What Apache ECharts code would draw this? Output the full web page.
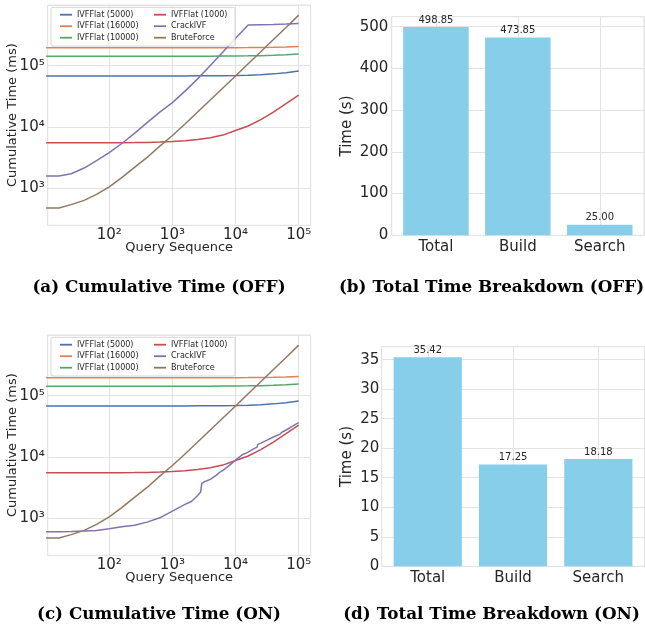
<!DOCTYPE html>
<html>
<head>
<meta charset="utf-8">
<script src="https://cdn.jsdelivr.net/npm/echarts@6/dist/echarts.min.js"></script>
<style>
html,body{margin:0;padding:0;background:#ffffff;}
#c{width:645px;height:632px;}
</style>
</head>
<body>
<div id="c"></div>
<script>
// ---------- data ----------
const queries = [10, 16, 25, 40, 63, 100, 158, 251, 398, 631, 1000, 1585, 2512, 3981, 6310, 10000, 15849, 25119, 39811, 63096, 100000];
const ivf5000  = [68000, 68000, 68000, 68000, 68010, 68010, 68020, 68040, 68060, 68090, 68140, 68220, 68350, 68560, 68880, 69400, 70200, 71500, 73600, 76800, 82000];
const ivf16000 = [196000, 196000, 196000, 196000, 196010, 196010, 196020, 196030, 196040, 196060, 196100, 196160, 196250, 196400, 196630, 197000, 197600, 198500, 200000, 202300, 206000];
const ivf10000 = [142700, 142700, 142700, 142700, 142710, 142710, 142720, 142730, 142750, 142780, 142830, 142900, 143020, 143200, 143500, 143960, 144700, 145860, 147700, 150650, 155300];
const ivf1000  = [5570, 5570, 5570, 5570, 5570, 5570, 5580, 5600, 5630, 5690, 5800, 5970, 6250, 6700, 7400, 8800, 10400, 13200, 17500, 24000, 33300];
const bruteForce = [482, 482, 545, 640, 800, 1060, 1500, 2200, 3200, 4900, 7300, 11200, 17600, 27600, 43400, 68000, 107600, 169000, 267000, 419000, 667000];
const crackOff = [1600, 1600, 1740, 2150, 2850, 3850, 5400, 7900, 11800, 17500, 25000, 38500, 61000, 101000, 167000, 280000, 462000, 466000, 470000, 476000, 485000];
const crackOnX = [10, 16, 25, 40, 63, 100, 158, 251, 398, 631, 1000, 1585, 2000, 2512, 2800, 2900, 2920, 3300, 3981, 5000, 5500, 6310, 8000, 10000, 12600, 15849, 20000, 22000, 22500, 25119, 31600, 39811, 50000, 55000, 63096, 80000, 100000];
const crackOn  = [607, 607, 613, 622, 637, 680, 731, 778, 871, 1025, 1318, 1692, 1890, 2370, 2690, 2860, 3720, 4010, 4330, 5090, 5560, 6060, 7310, 8940, 10800, 12070, 13840, 14550, 16100, 16900, 18900, 21200, 23400, 25600, 27600, 32000, 36300];

const lineNames = ['IVFFlat (5000)', 'IVFFlat (16000)', 'IVFFlat (10000)', 'IVFFlat (1000)', 'CrackIVF', 'BruteForce'];
const breakdownCats = ['Total', 'Build', 'Search'];
const timeOff = [498.85, 473.85, 25.00];
const timeOn  = [35.42, 17.25, 18.18];
const captions = ['(a) Cumulative Time (OFF)', '(b) Total Time Breakdown (OFF)', '(c) Cumulative Time (ON)', '(d) Total Time Breakdown (ON)'];

// ---------- styles ----------
const lineColors = ['#4C72B0', '#DD8452', '#55A868', '#C44E52', '#8172B3', '#937860'];
const barColor = '#87CEEB';
const txt = '#262626';
const gridColor = '#e3e3e3';
const sans = 'DejaVu Sans';

const sup = {'0':'\u2070','1':'\u00B9','2':'\u00B2','3':'\u00B3','4':'\u2074','5':'\u2075','6':'\u2076','7':'\u2077','8':'\u2078','9':'\u2079'};
function powLabel(v) {
  const e = Math.log10(v);
  const r = Math.round(e);
  if (Math.abs(e - r) > 1e-6) return '';
  return '10' + String(r).split('').map(c => sup[c]).join('');
}
function pairs(xs, ys) { return xs.map((x, i) => [x, ys[i]]); }

const grids = [
  {left: 47.7, top: 5,     width: 263,   height: 220.3},
  {left: 391.7, top: 16.7, width: 252.3, height: 218.6},
  {left: 47.7, top: 335,   width: 263,   height: 220.3},
  {left: 381.7, top: 346.7, width: 262.7, height: 219.6}
].map(g => Object.assign(g, {show: true, borderColor: gridColor, borderWidth: 1, backgroundColor: 'rgba(0,0,0,0)', containLabel: false, outerBoundsMode: 'none'}));

const common = {
  axisLine: {show: false},
  axisTick: {show: false},
  splitLine: {show: true, lineStyle: {color: gridColor, width: 1}},
  nameLocation: 'middle',
  nameMoveOverlap: false
};

function logX(gi) {
  return Object.assign({}, common, {
    type: 'log', gridIndex: gi, min: 10.6, max: 155000, logBase: 10,
    axisLabel: {formatter: powLabel, fontSize: 15, color: txt, fontFamily: sans, margin: 2},
    name: 'Query Sequence', nameGap: 16,
    nameTextStyle: {fontSize: 13, color: txt, fontFamily: sans}
  });
}
function logY(gi) {
  return Object.assign({}, common, {
    type: 'log', gridIndex: gi, min: 251, max: 975000, logBase: 10,
    axisLabel: {formatter: powLabel, fontSize: 15, color: txt, fontFamily: sans, margin: 3},
    name: 'Cumulative Time (ms)', nameGap: 28.5, nameRotate: 90,
    nameTextStyle: {fontSize: 13, color: txt, fontFamily: sans}
  });
}
function catX(gi) {
  return Object.assign({}, common, {
    type: 'value', gridIndex: gi, min: -0.54, max: 2.54, minInterval: 1, maxInterval: 1,
    axisLabel: {
      formatter: v => { const r = Math.round(v); return (Math.abs(v - r) < 1e-6 && r >= 0 && r < breakdownCats.length) ? breakdownCats[r] : ''; },
      fontSize: 15, color: txt, fontFamily: sans, margin: 4
    }
  });
}
function barY(gi, max, step, gap, margin) {
  return Object.assign({}, common, {
    type: 'value', gridIndex: gi, min: 0, max: max, interval: step,
    axisLabel: {
      formatter: v => (Math.abs(v / step - Math.round(v / step)) < 1e-6 ? String(v) : ''),
      fontSize: 15, color: txt, fontFamily: sans, margin: margin, showMaxLabel: false
    },
    name: 'Time (s)', nameGap: gap, nameRotate: 90,
    nameTextStyle: {fontSize: 15, color: txt, fontFamily: sans}
  });
}

const series = [];
const offData = [ivf5000, ivf16000, ivf10000, ivf1000, crackOff, bruteForce];
const onData  = [ivf5000, ivf16000, ivf10000, ivf1000, crackOn, bruteForce];
[[0, offData], [2, onData]].forEach(([ai, arr]) => {
  arr.forEach((ys, k) => {
    const xs = (ai === 2 && k === 4) ? crackOnX : queries;
    series.push({
      type: 'line', name: lineNames[k], xAxisIndex: ai, yAxisIndex: ai,
      data: pairs(xs, ys), symbol: 'none', showSymbol: false, clip: true, silent: true,
      lineStyle: {width: 1.5, color: lineColors[k]}, itemStyle: {color: lineColors[k]}, z: 2
    });
  });
});
[[1, timeOff, 65.5], [3, timeOn, 68.2]].forEach(([ai, vals, bw]) => {
  series.push({
    type: 'bar', xAxisIndex: ai, yAxisIndex: ai, barWidth: bw, silent: true,
    data: vals.map((v, i) => [i, v]),
    itemStyle: {color: barColor},
    label: {show: true, position: 'top', distance: 2, fontSize: 10, color: txt, fontFamily: sans,
            formatter: p => p.value[1].toFixed(2)}
  });
});

function legend(left, top, names) {
  return {
    orient: 'vertical', left: left, top: top, padding: 0, z: 10,
    icon: 'rect', itemWidth: 12, itemHeight: 1.8, itemGap: 3.5,
    selectedMode: false,
    textStyle: {fontSize: 8, color: txt, fontFamily: sans, lineHeight: 8},
    data: names
  };
}
const legends = [];
[0, 330].forEach(dy => {
  legends.push(legend(60, 10.7 + dy, lineNames.slice(0, 3)));
  legends.push(legend(154, 10.7 + dy, lineNames.slice(3)));
});

const graphics = [];
[0, 330].forEach(dy => {
  graphics.push({type: 'rect', z: 9, silent: true,
    shape: {x: 51, y: 7.3 + dy, width: 184, height: 38.7, r: 2},
    style: {fill: 'rgba(255,255,255,0.8)', stroke: '#d6d6d6', lineWidth: 1}});
});
const capPos = [[159, 287.5], [491.5, 287.5], [159, 614.5], [491.5, 614.5]];
captions.forEach((t, i) => {
  graphics.push({type: 'text', z: 10, silent: true, x: capPos[i][0], y: capPos[i][1],
    style: {text: t, align: 'center', verticalAlign: 'middle', fill: '#000',
            fontSize: 16.8, fontWeight: 'bold', fontFamily: 'DejaVu Serif'}});
});

const chart = echarts.init(document.getElementById('c'), null, {renderer: 'canvas'});
chart.setOption({
  animation: false,
  backgroundColor: '#ffffff',
  textStyle: {fontFamily: sans},
  grid: grids,
  xAxis: [logX(0), catX(1), logX(2), catX(3)],
  yAxis: [logY(0), barY(1, 523.8, 100, 37.5, 3.4), logY(2), barY(3, 37.19, 5, 27, 2.4)],
  legend: legends,
  graphic: graphics,
  series: series
});
</script>
</body>
</html>
